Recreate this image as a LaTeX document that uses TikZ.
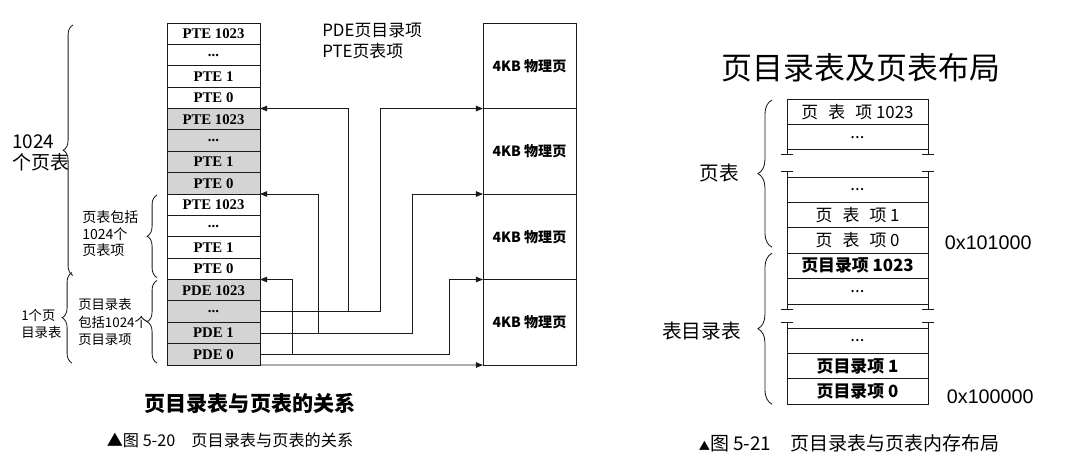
\documentclass[tikz,border=0pt]{standalone}
\usepackage{fontspec}
\setmainfont{Liberation Serif}
\newfontfamily\cjk{Noto Sans CJK SC}
\newfontfamily\hexfont{Liberation Sans}
\usepackage{tikz}
\usetikzlibrary{calc,arrows.meta,decorations.pathreplacing}
\definecolor{linec}{HTML}{1A1A1A}
\definecolor{shade}{HTML}{D4D4D4}
\newcommand\rowdots{...}
\tikzset{
  ar/.style={-{Triangle[length=1.8mm,width=1.4mm]},line width=0.6pt,linec},
  cell/.style={draw=linec,line width=0.6pt,anchor=north west,minimum width=23.25mm,minimum height=5.344mm,inner sep=0pt,outer sep=0pt,font=\fontsize{10.5}{12}\selectfont\bfseries},
  page/.style={draw=linec,line width=0.6pt,anchor=north west,minimum width=23.25mm,minimum height=21.375mm,inner sep=0pt,outer sep=0pt,font=\cjk\fontsize{10}{12}\selectfont\bfseries},
  slot/.style={draw=linec,line width=0.6pt,anchor=north west,minimum width=35.25mm,minimum height=6.35mm,inner sep=0pt,outer sep=0pt,font=\cjk\fontsize{12}{14}\selectfont},
  brk/.style={line width=0.6pt,linec},
  brc/.style={decorate,decoration={brace,amplitude=#1},line width=0.6pt,linec},
  brc/.default=7pt,
  lbl/.style={align=left,anchor=west,inner sep=0pt}
}
\begin{document}
\begin{tikzpicture}[x=0.025cm,y=-0.025cm]
\useasboundingbox (0,0) rectangle (1070,473);
\foreach \lab/\fc [count=\i] in {PTE 1023/white,\rowdots/white,PTE 1/white,PTE 0/white,PTE 1023/shade,\rowdots/shade,PTE 1/shade,PTE 0/shade,PTE 1023/white,\rowdots/white,PTE 1/white,PTE 0/white,PDE 1023/shade,\rowdots/shade,PDE 1/shade,PDE 0/shade}
  \node[cell,fill=\fc] (s\i) at (167,{23+(\i-1)*21.375}) {\lab};
\foreach \i in {1,...,4}
  \node[page] (p\i) at (483,{23+(\i-1)*85.5}) {4KB 物理页};
\draw[ar] (s14.east) -- ++(120,0) |- (p1.south west);
\draw[ar] ($(s14.east)+(88,0)$) |- (s5.north east);
\draw[ar] (s15.east) -- ++(152,0) |- (p2.south west);
\draw[ar] ($(s15.east)+(58,0)$) |- (s9.north east);
\draw[ar] (s16.east) -- ++(189,0) |- (p3.south west);
\draw[ar] ($(s16.east)+(32,0)$) |- (s13.north east);
\draw[ar] (s16.south east) -- (p4.south west);
\draw[brc] ($(s12.south west)+(-94,-4)$) -- ($(s1.north west)+(-94,2)$);
\draw[brc] ($(s12.south west)+(-10,-2)$) -- ($(s9.north west)+(-10,1)$);
\draw[brc] ($(s16.south west)+(-10,-2)$) -- ($(s13.north west)+(-10,1)$);
\draw[brc] ($(s16.south west)+(-95,-2)$) -- ($(s13.north west)+(-95,-7)$);
\node[lbl,font=\cjk\fontsize{13.5}{14.5}\selectfont] (ltab) at (12,153) {1024\\个页表};
\node[lbl,font=\cjk\fontsize{10}{11.7}\selectfont] (lpte) at (82,234) {页表包括\\1024个\\页表项};
\node[lbl,font=\cjk\fontsize{9.5}{12.4}\selectfont] (lpde) at (78,322) {页目录表\\包括1024个\\页目录项};
\node[lbl,font=\cjk\fontsize{9.5}{12}\selectfont] (ldir) at (21,324) {1个页\\目录表};
\node[lbl,font=\cjk\fontsize{12}{15.6}\selectfont] (lgd) at (322,41) {PDE页目录项\\PTE页表项};
\node[font=\cjk\fontsize{15}{18}\selectfont\bfseries] (ltitle) at (250,403) {页目录表与页表的关系};
\node[font=\cjk\fontsize{11.5}{14}\selectfont] (lcap) at (230,440) {▲图 5-20\hspace{1em}页目录表与页表的关系};
\node[font=\cjk\fontsize{22}{26}\selectfont] (rtitle) at (861,68) {页目录表及页表布局};
\foreach \lab/\top [count=\i] in {页\hspace{0.6em}表\hspace{0.6em}项 1023/99,\rowdots/124.4,\rowdots/177,页\hspace{0.6em}表\hspace{0.6em}项 1/202.4,页\hspace{0.6em}表\hspace{0.6em}项 0/227.8,{\bfseries 页目录项 1023}/253.2,\rowdots/278.6,\rowdots/328,{\bfseries 页目录项 1}/353.4,{\bfseries 页目录项 0}/378.8}
  \node[slot] (r\i) at (787,\top) {\lab};
\foreach \a/\b in {r2/r3,r7/r8}{
  \draw[brk] (\a.south west) -- ++(0,5) +(-6,0) -- +(6,0);
  \draw[brk] (\a.south east) -- ++(0,5) +(-6,0) -- +(6,0);
  \draw[brk] (\b.north west) -- ++(0,-6) +(-6,0) -- +(6,0);
  \draw[brk] (\b.north east) -- ++(0,-6) +(-6,0) -- +(6,0);
}
\draw[brc=10pt] ($(r5.south west)+(-15,-6)$) -- ($(r1.north west)+(-15,1)$);
\draw[brc=10pt] ($(r10.south west)+(-15,0)$) -- ($(r6.north west)+(-15,0)$);
\node[anchor=east,font=\cjk\fontsize{14}{16}\selectfont] (rpt) at (744,173) {页表};
\node[anchor=east,font=\cjk\fontsize{14}{16}\selectfont] (rpd) at (746,331) {表目录表};
\node[anchor=west,font=\hexfont\fontsize{14}{16}\selectfont] (ra1) at (940,243) {0x101000};
\node[anchor=west,font=\hexfont\fontsize{14}{16}\selectfont] (ra0) at (942,397) {0x100000};
\node[font=\cjk\fontsize{13.5}{15}\selectfont] (rcap) at (849,443) {{\fontsize{8}{10}\selectfont ▲}图 5-21\hspace{1em}页目录表与页表内存布局};
\end{tikzpicture}
\end{document}
